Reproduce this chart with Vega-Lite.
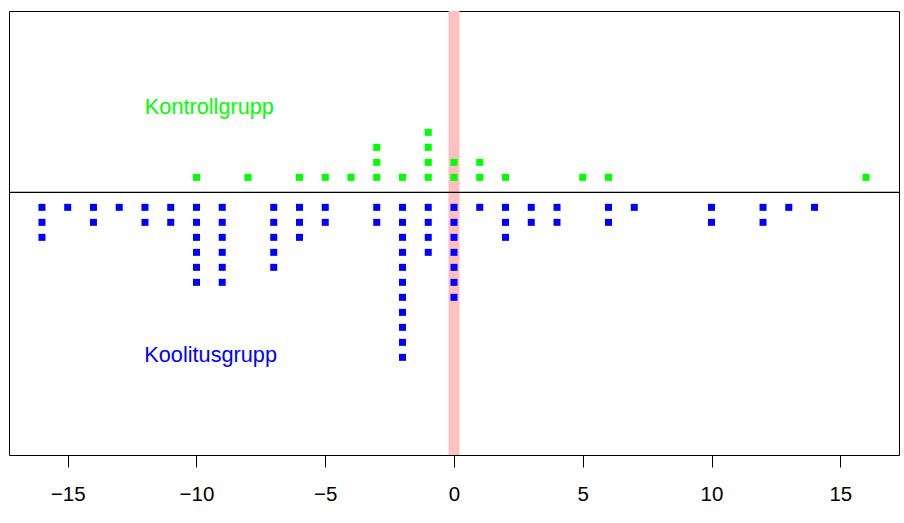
{
  "$schema": "https://vega.github.io/schema/vega-lite/v6.json",
  "width": 890,
  "height": 444,
  "autosize": {"type": "none"},
  "padding": {"left": 9, "top": 11, "right": 5, "bottom": 68},
  "background": "white",
  "config": {
    "view": {"stroke": "black", "strokeWidth": 1},
    "font": "Liberation Sans"
  },
  "datasets": {
    "pts": [
      {"grp": "Kontrollgrupp", "x": -10, "y": 1},
      {"grp": "Kontrollgrupp", "x": -8, "y": 1},
      {"grp": "Kontrollgrupp", "x": -6, "y": 1},
      {"grp": "Kontrollgrupp", "x": -5, "y": 1},
      {"grp": "Kontrollgrupp", "x": -4, "y": 1},
      {"grp": "Kontrollgrupp", "x": -3, "y": 1},
      {"grp": "Kontrollgrupp", "x": -3, "y": 2},
      {"grp": "Kontrollgrupp", "x": -3, "y": 3},
      {"grp": "Kontrollgrupp", "x": -2, "y": 1},
      {"grp": "Kontrollgrupp", "x": -1, "y": 1},
      {"grp": "Kontrollgrupp", "x": -1, "y": 2},
      {"grp": "Kontrollgrupp", "x": -1, "y": 3},
      {"grp": "Kontrollgrupp", "x": -1, "y": 4},
      {"grp": "Kontrollgrupp", "x": 0, "y": 1},
      {"grp": "Kontrollgrupp", "x": 0, "y": 2},
      {"grp": "Kontrollgrupp", "x": 1, "y": 1},
      {"grp": "Kontrollgrupp", "x": 1, "y": 2},
      {"grp": "Kontrollgrupp", "x": 2, "y": 1},
      {"grp": "Kontrollgrupp", "x": 5, "y": 1},
      {"grp": "Kontrollgrupp", "x": 6, "y": 1},
      {"grp": "Kontrollgrupp", "x": 16, "y": 1},

      {"grp": "Koolitusgrupp", "x": -16, "y": -1},
      {"grp": "Koolitusgrupp", "x": -16, "y": -2},
      {"grp": "Koolitusgrupp", "x": -16, "y": -3},
      {"grp": "Koolitusgrupp", "x": -15, "y": -1},
      {"grp": "Koolitusgrupp", "x": -14, "y": -1},
      {"grp": "Koolitusgrupp", "x": -14, "y": -2},
      {"grp": "Koolitusgrupp", "x": -13, "y": -1},
      {"grp": "Koolitusgrupp", "x": -12, "y": -1},
      {"grp": "Koolitusgrupp", "x": -12, "y": -2},
      {"grp": "Koolitusgrupp", "x": -11, "y": -1},
      {"grp": "Koolitusgrupp", "x": -11, "y": -2},
      {"grp": "Koolitusgrupp", "x": -10, "y": -1},
      {"grp": "Koolitusgrupp", "x": -10, "y": -2},
      {"grp": "Koolitusgrupp", "x": -10, "y": -3},
      {"grp": "Koolitusgrupp", "x": -10, "y": -4},
      {"grp": "Koolitusgrupp", "x": -10, "y": -5},
      {"grp": "Koolitusgrupp", "x": -10, "y": -6},
      {"grp": "Koolitusgrupp", "x": -9, "y": -1},
      {"grp": "Koolitusgrupp", "x": -9, "y": -2},
      {"grp": "Koolitusgrupp", "x": -9, "y": -3},
      {"grp": "Koolitusgrupp", "x": -9, "y": -4},
      {"grp": "Koolitusgrupp", "x": -9, "y": -5},
      {"grp": "Koolitusgrupp", "x": -9, "y": -6},
      {"grp": "Koolitusgrupp", "x": -7, "y": -1},
      {"grp": "Koolitusgrupp", "x": -7, "y": -2},
      {"grp": "Koolitusgrupp", "x": -7, "y": -3},
      {"grp": "Koolitusgrupp", "x": -7, "y": -4},
      {"grp": "Koolitusgrupp", "x": -7, "y": -5},
      {"grp": "Koolitusgrupp", "x": -6, "y": -1},
      {"grp": "Koolitusgrupp", "x": -6, "y": -2},
      {"grp": "Koolitusgrupp", "x": -6, "y": -3},
      {"grp": "Koolitusgrupp", "x": -5, "y": -1},
      {"grp": "Koolitusgrupp", "x": -5, "y": -2},
      {"grp": "Koolitusgrupp", "x": -3, "y": -1},
      {"grp": "Koolitusgrupp", "x": -3, "y": -2},
      {"grp": "Koolitusgrupp", "x": -2, "y": -1},
      {"grp": "Koolitusgrupp", "x": -2, "y": -2},
      {"grp": "Koolitusgrupp", "x": -2, "y": -3},
      {"grp": "Koolitusgrupp", "x": -2, "y": -4},
      {"grp": "Koolitusgrupp", "x": -2, "y": -5},
      {"grp": "Koolitusgrupp", "x": -2, "y": -6},
      {"grp": "Koolitusgrupp", "x": -2, "y": -7},
      {"grp": "Koolitusgrupp", "x": -2, "y": -8},
      {"grp": "Koolitusgrupp", "x": -2, "y": -9},
      {"grp": "Koolitusgrupp", "x": -2, "y": -10},
      {"grp": "Koolitusgrupp", "x": -2, "y": -11},
      {"grp": "Koolitusgrupp", "x": -1, "y": -1},
      {"grp": "Koolitusgrupp", "x": -1, "y": -2},
      {"grp": "Koolitusgrupp", "x": -1, "y": -3},
      {"grp": "Koolitusgrupp", "x": -1, "y": -4},
      {"grp": "Koolitusgrupp", "x": 0, "y": -1},
      {"grp": "Koolitusgrupp", "x": 0, "y": -2},
      {"grp": "Koolitusgrupp", "x": 0, "y": -3},
      {"grp": "Koolitusgrupp", "x": 0, "y": -4},
      {"grp": "Koolitusgrupp", "x": 0, "y": -5},
      {"grp": "Koolitusgrupp", "x": 0, "y": -6},
      {"grp": "Koolitusgrupp", "x": 0, "y": -7},
      {"grp": "Koolitusgrupp", "x": 1, "y": -1},
      {"grp": "Koolitusgrupp", "x": 2, "y": -1},
      {"grp": "Koolitusgrupp", "x": 2, "y": -2},
      {"grp": "Koolitusgrupp", "x": 2, "y": -3},
      {"grp": "Koolitusgrupp", "x": 3, "y": -1},
      {"grp": "Koolitusgrupp", "x": 3, "y": -2},
      {"grp": "Koolitusgrupp", "x": 4, "y": -1},
      {"grp": "Koolitusgrupp", "x": 4, "y": -2},
      {"grp": "Koolitusgrupp", "x": 6, "y": -1},
      {"grp": "Koolitusgrupp", "x": 6, "y": -2},
      {"grp": "Koolitusgrupp", "x": 7, "y": -1},
      {"grp": "Koolitusgrupp", "x": 10, "y": -1},
      {"grp": "Koolitusgrupp", "x": 10, "y": -2},
      {"grp": "Koolitusgrupp", "x": 12, "y": -1},
      {"grp": "Koolitusgrupp", "x": 12, "y": -2},
      {"grp": "Koolitusgrupp", "x": 13, "y": -1},
      {"grp": "Koolitusgrupp", "x": 14, "y": -1}
    ],
    "labels": [
      {"grp": "Kontrollgrupp", "x": -9.5, "y": 5.7},
      {"grp": "Koolitusgrupp", "x": -9.45, "y": -10.85}
    ],
    "zero": [{"x": 0, "y": 0}]
  },
  "layer": [
    {
      "data": {"name": "zero"},
      "mark": {"type": "rule", "color": "#ffc0c0", "strokeWidth": 11},
      "encoding": {
        "x": {"field": "x", "type": "quantitative",
              "scale": {"domain": [-17.28, 17.28], "nice": false, "zero": false},
              "axis": {"values": [-15, -10, -5, 0, 5, 10, 15], "grid": false, "domain": false,
                       "tickColor": "black", "tickSize": 12, "tickWidth": 1,
                       "labelFontSize": 20.5, "labelColor": "black", "labelPadding": 17,
                       "labelFont": "Liberation Sans", "title": null}}
      }
    },
    {
      "data": {"name": "zero"},
      "mark": {"type": "rule", "color": "black", "strokeWidth": 1.2},
      "encoding": {
        "y": {"field": "y", "type": "quantitative",
              "scale": {"domain": [-17.51, 12.09], "nice": false, "zero": false},
              "axis": null}
      }
    },
    {
      "data": {"name": "pts"},
      "mark": {"type": "point", "shape": "square", "filled": true, "size": 49, "opacity": 1},
      "encoding": {
        "x": {"field": "x", "type": "quantitative"},
        "y": {"field": "y", "type": "quantitative"},
        "color": {"field": "grp", "type": "nominal",
                  "scale": {"domain": ["Kontrollgrupp", "Koolitusgrupp"], "range": ["#00ff00", "#0000ff"]},
                  "legend": null}
      }
    },
    {
      "data": {"name": "labels"},
      "mark": {"type": "text", "fontSize": 21.7, "font": "Liberation Sans", "align": "center", "baseline": "middle"},
      "encoding": {
        "x": {"field": "x", "type": "quantitative"},
        "y": {"field": "y", "type": "quantitative"},
        "text": {"field": "grp"},
        "color": {"field": "grp", "type": "nominal", "legend": null}
      }
    }
  ]
}
